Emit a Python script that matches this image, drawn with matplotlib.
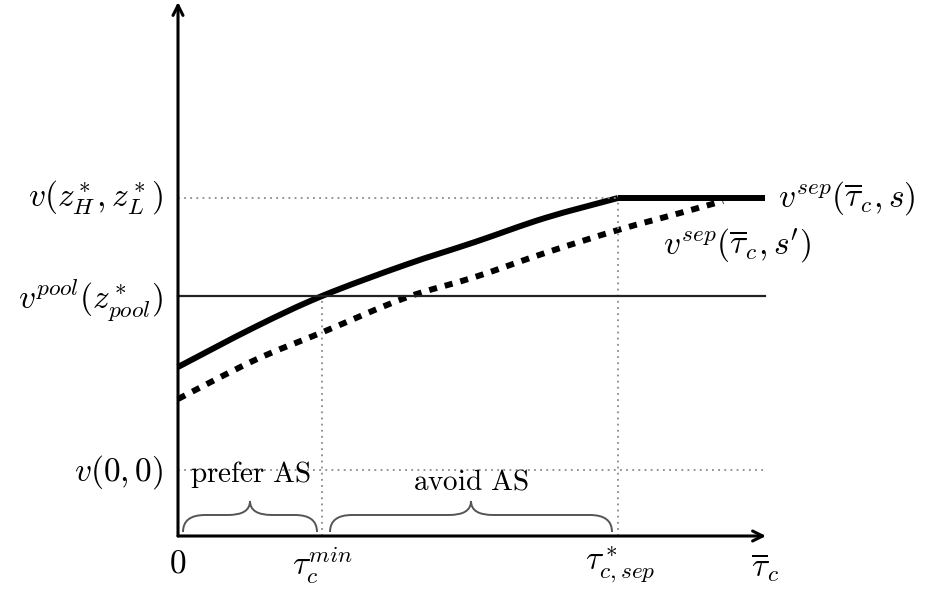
import matplotlib
matplotlib.use('Agg')
import matplotlib.pyplot as plt
from matplotlib.path import Path
from matplotlib.patches import PathPatch

plt.rcParams['mathtext.fontset'] = 'cm'

# levels (arbitrary units)
v_sep = 3.38
v_pool = 2.40
v_00 = 0.66
tau_min = 1.44
tau_sep = 4.40
x_end = 5.87
y_top = 5.34

# v^sep(tau, s) : rises until tau_sep
solid_x = [0.0, 0.77, 1.44, 2.27, 2.97, 3.67, 4.40]
solid_y = [1.69, 2.09, 2.40, 2.71, 2.94, 3.18, 3.38]

# v^sep(tau, s')
dashed_x = [0.0, 0.77, 1.45, 2.27, 2.97, 3.67, 4.40, 5.02, 5.45]
dashed_y = [1.37, 1.76, 2.04, 2.38, 2.59, 2.83, 3.06, 3.23, 3.35]

# braces: (left, right, label, label height)
braces = [(0.05, 1.39, r'$\mathrm{prefer\ AS}$', 0.61),
          (1.52, 4.34, r'$\mathrm{avoid\ AS}$', 0.54)]

fs = 24
fs_txt = 21


def smooth_path(xs, ys):
    # Catmull-Rom through the read points, drawn as cubic Bezier pieces
    pts = list(zip(xs, ys))
    verts = [pts[0]]
    codes = [Path.MOVETO]
    for i in range(len(pts) - 1):
        p0 = pts[i - 1] if i > 0 else pts[i]
        p1 = pts[i]
        p2 = pts[i + 1]
        p3 = pts[i + 2] if i + 2 < len(pts) else pts[i + 1]
        c1 = (p1[0] + (p2[0] - p0[0]) / 6, p1[1] + (p2[1] - p0[1]) / 6)
        c2 = (p2[0] - (p3[0] - p1[0]) / 6, p2[1] - (p3[1] - p1[1]) / 6)
        verts += [c1, c2, p2]
        codes += [Path.CURVE4] * 3
    return Path(verts, codes)


fig = plt.figure(figsize=(9.27, 5.92), dpi=100)
ax = fig.add_axes([0, 0, 1, 1])
ax.set_xlim(-1.78, 7.49)
ax.set_ylim(-0.56, 5.36)
ax.axis('off')

# axes with arrows
ax.annotate('', xy=(x_end + 0.01, 0), xytext=(0, 0),
            arrowprops=dict(arrowstyle='->', lw=2.2, color='black',
                            mutation_scale=18, shrinkA=0, shrinkB=0))
ax.annotate('', xy=(0, y_top), xytext=(0, 0),
            arrowprops=dict(arrowstyle='->', lw=2.2, color='black',
                            mutation_scale=18, shrinkA=0, shrinkB=0))

# dotted guides
dot = dict(color='#8a8a8a', lw=1.3, linestyle=(0, (1, 2.4)))
ax.plot([0, tau_sep], [v_sep, v_sep], **dot)
ax.plot([0, x_end], [v_00, v_00], **dot)
ax.plot([tau_min, tau_min], [0, v_pool], **dot)
ax.plot([tau_sep, tau_sep], [0, v_sep], **dot)

# pooling level
ax.plot([0, x_end], [v_pool, v_pool], color='#222222', lw=1.6)

# curves
ax.add_patch(PathPatch(smooth_path(solid_x, solid_y), fill=False,
                       edgecolor='black', lw=4.3, capstyle='butt'))
ax.plot([tau_sep, x_end], [v_sep, v_sep], color='black', lw=4.3,
        solid_capstyle='butt')
ax.add_patch(PathPatch(smooth_path(dashed_x, dashed_y), fill=False,
                       edgecolor='black', lw=4.3, capstyle='butt',
                       linestyle=(0, (1.35, 1.35))))


def brace(x0, x1, y0=0.04, y1=0.21, y2=0.35):
    xm = (x0 + x1) / 2
    r = 0.22
    verts = [(x0, y0), (x0, y1), (x0 + r, y1),
             (xm - r, y1), (xm, y1), (xm, y2),
             (xm, y1), (xm + r, y1),
             (x1 - r, y1), (x1, y1), (x1, y0)]
    codes = [Path.MOVETO, Path.CURVE3, Path.CURVE3,
             Path.LINETO, Path.CURVE3, Path.CURVE3,
             Path.CURVE3, Path.CURVE3,
             Path.LINETO, Path.CURVE3, Path.CURVE3]
    return PathPatch(Path(verts, codes), fill=False, edgecolor='#555555', lw=1.4)


for x0, x1, lab, ly in braces:
    ax.add_patch(brace(x0, x1))
    ax.text((x0 + x1) / 2, ly, lab, fontsize=fs_txt, ha='center', va='center')

# left labels
ax.text(-0.15, v_sep, r'$v(z_H^*, z_L^*)$', fontsize=fs, ha='right', va='center')
ax.text(-0.15, v_pool - 0.04, r'$v^{pool}(z^*_{pool})$', fontsize=fs, ha='right', va='center')
ax.text(-0.15, v_00 - 0.02, r'$v(0,0)$', fontsize=fs, ha='right', va='center')

# bottom labels
ax.text(0, -0.27, r'$0$', fontsize=fs, ha='center', va='center')
ax.text(tau_min, -0.29, r'$\tau_c^{min}$', fontsize=fs, ha='center', va='center')
ax.text(tau_sep + 0.02, -0.29, r'$\tau^*_{c,sep}$', fontsize=fs, ha='center', va='center')
ax.text(x_end, -0.31, r'$\overline{\tau}_c$', fontsize=fs, ha='center', va='center')

# right labels
ax.text(6.0, v_sep, r'$v^{sep}(\overline{\tau}_c, s)$', fontsize=fs, ha='left', va='center')
ax.text(4.85, 2.91, r"$v^{sep}(\overline{\tau}_c, s')$", fontsize=fs, ha='left', va='center')

fig.savefig('out.png', dpi=100)
